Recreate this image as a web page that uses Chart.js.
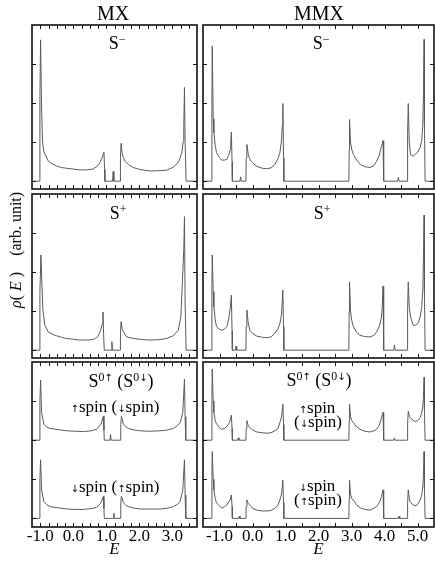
<!DOCTYPE html>
<html>
<head>
<meta charset="utf-8">
<script src="https://cdn.jsdelivr.net/npm/chart.js@4.4.1/dist/chart.umd.min.js"></script>
<style>
  body { margin: 0; background: #fff; }
  #fig { position: relative; width: 435px; height: 563px; overflow: hidden;
         font-family: 'Liberation Serif', 'Times New Roman', serif; color: #000; }
  #fig canvas { position: absolute; }
  .lbl { position: absolute; white-space: nowrap; line-height: 1; transform: translate(-50%, -50%); }
  .lbl sup { font-size: 0.66em; vertical-align: 0.5em; line-height: 0; }
  .arr { font-family: 'DejaVu Sans', sans-serif; font-size: 10px; }
  #ylab { position: absolute; left: 16px; top: 250px; white-space: nowrap; line-height: 1;
          font-size: 16px; transform: translate(-50%, -50%) rotate(-90deg); }
</style>
</head>
<body>
<div id="fig">
  <canvas id="mxTop"></canvas>
  <canvas id="mmxTop"></canvas>
  <canvas id="mxMid"></canvas>
  <canvas id="mmxMid"></canvas>
  <canvas id="mxBot"></canvas>
  <canvas id="mmxBot"></canvas>

  <div class="lbl" style="left:113px;top:13px;font-size:20px">MX</div>
  <div class="lbl" style="left:319px;top:13px;font-size:20px">MMX</div>

  <div class="lbl" style="left:117px;top:43px;font-size:18px">S<sup>−</sup></div>
  <div class="lbl" style="left:321px;top:43px;font-size:18px">S<sup>−</sup></div>
  <div class="lbl" style="left:118px;top:213px;font-size:18px">S<sup>+</sup></div>
  <div class="lbl" style="left:322px;top:213px;font-size:18px">S<sup>+</sup></div>

  <div class="lbl" style="left:121px;top:381px;font-size:18px">S<sup>0<span class="arr">↑</span></sup> (S<sup>0<span class="arr">↓</span></sup>)</div>
  <div class="lbl" style="left:319px;top:380px;font-size:18px">S<sup>0<span class="arr">↑</span></sup> (S<sup>0<span class="arr">↓</span></sup>)</div>

  <div class="lbl" style="left:115px;top:406px;font-size:17px"><span class="arr">↑</span>spin (<span class="arr">↓</span>spin)</div>
  <div class="lbl" style="left:115px;top:486px;font-size:17px"><span class="arr">↓</span>spin (<span class="arr">↑</span>spin)</div>

  <div class="lbl" style="left:317px;top:407px;font-size:17px"><span class="arr">↑</span>spin</div>
  <div class="lbl" style="left:318px;top:421px;font-size:17px">(<span class="arr">↓</span>spin)</div>
  <div class="lbl" style="left:317px;top:485px;font-size:17px"><span class="arr">↓</span>spin</div>
  <div class="lbl" style="left:318px;top:499px;font-size:17px">(<span class="arr">↑</span>spin)</div>

  <div id="ylab"><i>ρ</i>( <i>E</i> )&nbsp;&nbsp;&nbsp;&nbsp;(arb. unit)</div>
</div>

<script>
// density of states, [E, rho] pairs
const mxSMinus = [[-1.25,0],[-1.03,0],[-1.01,2.2],[-0.99,3.62],[-0.96,1.85],[-0.93,0.99],[-0.89,0.75],[-0.83,0.65],[-0.76,0.52],[-0.63,0.44],[-0.51,0.39],[-0.35,0.35],[-0.2,0.33],[0.0,0.31],[0.19,0.29],[0.4,0.29],[0.6,0.31],[0.72,0.38],[0.8,0.46],[0.86,0.58],[0.9,0.67],[0.93,0.74],[0.95,0.3],[0.96,0],
  [1.19,0],[1.21,0.25],[1.23,0],[1.42,0],[1.43,0.6],[1.45,0.97],[1.48,0.72],[1.52,0.6],[1.58,0.5],[1.67,0.43],[1.82,0.35],[2.02,0.3],[2.33,0.26],[2.63,0.27],[2.83,0.28],[3.03,0.36],[3.14,0.44],[3.22,0.55],[3.29,0.74],[3.33,1.0],[3.35,1.42],[3.37,2.4],[3.39,1.0],[3.42,0],[3.75,0]];

const mxSPlus = [[-1.25,0],[-1.03,0],[-1.01,1.5],[-0.98,2.44],[-0.95,1.71],[-0.92,1.03],[-0.86,0.64],[-0.76,0.47],[-0.63,0.41],[-0.51,0.37],[-0.35,0.33],[-0.21,0.3],[0.0,0.28],[0.19,0.26],[0.4,0.26],[0.6,0.27],[0.74,0.34],[0.83,0.51],[0.88,0.68],[0.9,0.98],[0.92,0.4],[0.94,0],
  [1.15,0],[1.17,0.22],[1.19,0],[1.42,0],[1.43,0.45],[1.45,0.73],[1.48,0.55],[1.52,0.47],[1.62,0.34],[1.82,0.3],[2.1,0.27],[2.33,0.26],[2.6,0.27],[2.83,0.3],[3.03,0.37],[3.18,0.51],[3.26,0.85],[3.31,1.79],[3.35,2.6],[3.37,3.42],[3.39,1.2],[3.42,0],[3.75,0]];

// S0 panel: upper curve sits on its own axis shifted by 2 units
const mxSpinUp = [[-1.25,0],[-1.03,0],[-1.01,1.0],[-0.99,1.54],[-0.96,0.71],[-0.89,0.41],[-0.8,0.33],[-0.7,0.3],[-0.45,0.27],[-0.2,0.24],[0.05,0.23],[0.31,0.22],[0.55,0.24],[0.71,0.28],[0.84,0.41],[0.91,0.61],[0.93,0.25],[0.94,0],
  [1.11,0],[1.13,0.15],[1.15,0],[1.43,0],[1.44,0.4],[1.46,0.61],[1.52,0.41],[1.6,0.34],[1.67,0.3],[1.85,0.26],[2.02,0.24],[2.3,0.23],[2.63,0.24],[2.85,0.26],[3.03,0.3],[3.15,0.37],[3.24,0.45],[3.32,0.71],[3.37,1.56],[3.39,0.6],[3.41,0],[3.75,0]];

const mxSpinDown = [[-1.25,0],[-1.03,0],[-1.01,1.0],[-0.99,1.5],[-0.96,0.73],[-0.89,0.43],[-0.8,0.35],[-0.7,0.3],[-0.45,0.27],[-0.2,0.24],[0.05,0.23],[0.31,0.23],[0.55,0.25],[0.71,0.28],[0.84,0.4],[0.91,0.56],[0.93,0.25],[0.94,0],
  [1.21,0],[1.23,0.13],[1.25,0],[1.43,0],[1.44,0.4],[1.46,0.57],[1.52,0.4],[1.6,0.33],[1.67,0.3],[1.85,0.26],[2.02,0.24],[2.3,0.24],[2.63,0.24],[2.85,0.26],[3.03,0.3],[3.15,0.36],[3.24,0.43],[3.32,0.73],[3.37,1.5],[3.39,0.6],[3.41,0],[3.75,0]];

const mmxSMinus = [[-1.5,0],[-1.24,0],[-1.23,2.0],[-1.22,3.46],[-1.19,1.6],[-1.17,1.24],[-1.13,0.92],[-1.09,0.73],[-1.0,0.6],[-0.93,0.54],[-0.85,0.54],[-0.78,0.56],[-0.72,0.66],[-0.68,0.8],[-0.66,1.0],[-0.64,1.26],[-0.62,0.5],[-0.61,0],
  [-0.38,0],[-0.36,0.11],[-0.34,0],[-0.2,0],[-0.19,0.6],[-0.17,0.94],[-0.13,0.7],[-0.08,0.56],[0.0,0.47],[0.13,0.38],[0.3,0.33],[0.43,0.32],[0.56,0.34],[0.68,0.43],[0.77,0.58],[0.83,0.73],[0.88,1.05],[0.9,1.4],[0.92,1.99],[0.94,0.6],[0.95,0],
  [2.92,0],[2.93,0.8],[2.94,1.58],[2.97,1.0],[3.01,0.8],[3.06,0.68],[3.15,0.55],[3.26,0.43],[3.4,0.37],[3.56,0.35],[3.68,0.4],[3.76,0.51],[3.84,0.66],[3.9,0.87],[3.93,0.95],[3.955,1.04],[3.97,0.4],[3.98,0],
  [4.4,0],[4.42,0.1],[4.44,0],[4.69,0],[4.7,1.2],[4.72,1.99],[4.75,1.0],[4.79,0.68],[4.87,0.64],[4.92,0.68],[5.0,0.74],[5.08,0.86],[5.13,1.05],[5.16,1.41],[5.18,2.2],[5.2,3.63],[5.21,1.5],[5.23,0],[5.5,0]];

const mmxSPlus = [[-1.5,0],[-1.24,0],[-1.23,1.6],[-1.22,2.44],[-1.19,1.5],[-1.17,1.11],[-1.13,0.78],[-1.09,0.6],[-1.0,0.53],[-0.93,0.51],[-0.85,0.54],[-0.78,0.6],[-0.72,0.8],[-0.7,0.94],[-0.67,1.1],[-0.64,1.41],[-0.62,0.5],[-0.61,0],
  [-0.52,0],[-0.5,0.1],[-0.48,0],[-0.2,0],[-0.19,0.6],[-0.17,1.03],[-0.13,0.7],[-0.08,0.51],[0.0,0.43],[0.13,0.36],[0.3,0.33],[0.43,0.32],[0.56,0.34],[0.68,0.43],[0.77,0.55],[0.83,0.68],[0.88,0.92],[0.92,1.54],[0.94,0.6],[0.95,0],
  [2.92,0],[2.93,1.0],[2.94,1.75],[2.97,1.0],[3.01,0.75],[3.06,0.6],[3.15,0.47],[3.26,0.38],[3.4,0.35],[3.56,0.34],[3.68,0.38],[3.76,0.47],[3.84,0.6],[3.91,0.85],[3.93,1.1],[3.955,1.64],[3.97,0.6],[3.98,0],
  [4.28,0],[4.3,0.13],[4.32,0],[4.69,0],[4.7,1.0],[4.72,1.75],[4.75,1.1],[4.79,0.85],[4.87,0.64],[4.95,0.64],[5.02,0.7],[5.08,0.85],[5.13,1.1],[5.16,1.54],[5.18,2.3],[5.2,3.46],[5.21,1.5],[5.23,0],[5.5,0]];

const mmxSpinUp = [[-1.5,0],[-1.24,0],[-1.23,1.1],[-1.22,1.82],[-1.19,1.0],[-1.17,0.71],[-1.13,0.5],[-1.09,0.42],[-1.0,0.32],[-0.93,0.28],[-0.85,0.3],[-0.78,0.35],[-0.72,0.42],[-0.68,0.5],[-0.64,0.64],[-0.62,0.3],[-0.61,0],
  [-0.45,0],[-0.43,0.06],[-0.41,0],[-0.2,0],[-0.19,0.3],[-0.17,0.5],[-0.13,0.38],[-0.08,0.32],[0.0,0.26],[0.13,0.21],[0.3,0.19],[0.43,0.18],[0.56,0.19],[0.68,0.24],[0.77,0.3],[0.83,0.45],[0.88,0.6],[0.92,0.92],[0.94,0.4],[0.95,0],
  [2.92,0],[2.93,0.5],[2.94,0.92],[2.97,0.6],[3.01,0.5],[3.06,0.45],[3.15,0.34],[3.26,0.28],[3.4,0.23],[3.56,0.21],[3.68,0.24],[3.76,0.28],[3.84,0.38],[3.91,0.58],[3.955,0.71],[3.97,0.3],[3.98,0],
  [4.28,0],[4.3,0.06],[4.32,0],[4.69,0],[4.7,0.4],[4.72,0.74],[4.76,0.6],[4.82,0.54],[4.92,0.48],[5.0,0.5],[5.08,0.58],[5.13,0.7],[5.16,0.88],[5.18,1.1],[5.2,1.61],[5.21,0.8],[5.23,0],[5.5,0]];

const mmxSpinDown = [[-1.5,0],[-1.24,0],[-1.23,1.0],[-1.22,1.71],[-1.19,1.0],[-1.17,0.73],[-1.13,0.5],[-1.09,0.4],[-1.0,0.32],[-0.93,0.26],[-0.85,0.3],[-0.78,0.34],[-0.72,0.42],[-0.68,0.47],[-0.64,0.6],[-0.62,0.3],[-0.61,0],
  [-0.42,0],[-0.4,0.06],[-0.38,0],[-0.2,0],[-0.19,0.3],[-0.17,0.47],[-0.13,0.38],[-0.08,0.34],[0.0,0.26],[0.13,0.21],[0.3,0.19],[0.43,0.19],[0.56,0.2],[0.68,0.26],[0.77,0.34],[0.83,0.47],[0.88,0.62],[0.92,0.98],[0.94,0.4],[0.95,0],
  [2.92,0],[2.93,0.5],[2.94,0.98],[2.97,0.62],[3.01,0.5],[3.06,0.47],[3.15,0.35],[3.26,0.27],[3.4,0.23],[3.56,0.21],[3.68,0.26],[3.76,0.3],[3.84,0.4],[3.91,0.56],[3.955,0.73],[3.97,0.3],[3.98,0],
  [4.42,0],[4.44,0.06],[4.46,0],[4.69,0],[4.7,0.4],[4.72,0.73],[4.76,0.45],[4.82,0.38],[4.92,0.32],[5.0,0.35],[5.08,0.47],[5.13,0.6],[5.16,0.81],[5.18,1.1],[5.2,1.71],[5.21,0.8],[5.23,0],[5.5,0]];

const mxRange = [-1.25, 3.75];
const mmxRange = [-1.5, 5.5];
const mxTickLabels = [-1, 0, 1, 2, 3];
const mmxTickLabels = [-1, 0, 1, 2, 3, 4, 5];
const mxMinorStep = 0.25;
const mmxMinorStep = 0.5;
const yTickVals = [0, 1, 2, 3];

const LINE = '#5a5a5a';
const FONT = "'Liberation Serif', 'Times New Roman', serif";

// frame box + inward ticks on all four sides
const frameTicks = {
  id: 'frameTicks',
  afterDatasetsDraw(chart, args, opts) {
    const { ctx, chartArea: a, scales } = chart;
    const x = scales.x, y = scales.y;
    ctx.save();
    ctx.strokeStyle = '#111';
    ctx.lineWidth = 1;
    ctx.beginPath();
    for (let v = x.min + opts.step; v < x.max - 1e-6; v += opts.step) {
      const px = Math.round(x.getPixelForValue(v)) + 0.5;
      ctx.moveTo(px, a.top); ctx.lineTo(px, a.top + 4);
      ctx.moveTo(px, a.bottom); ctx.lineTo(px, a.bottom - 4);
    }
    yTickVals.forEach(v => {
      const py = Math.round(y.getPixelForValue(v)) + 0.5;
      ctx.moveTo(a.left, py); ctx.lineTo(a.left + 4, py);
      ctx.moveTo(a.right, py); ctx.lineTo(a.right - 4, py);
    });
    ctx.stroke();
    ctx.lineWidth = 1.6;
    ctx.strokeRect(a.left, a.top, a.right - a.left, a.bottom - a.top);
    ctx.restore();
  }
};

const cols = [
  { left: 32, width: 165, range: mxRange, labels: mxTickLabels, step: mxMinorStep },
  { left: 203, width: 231, range: mmxRange, labels: mmxTickLabels, step: mmxMinorStep }
];
const rows = [
  { top: 25, height: 164, ymin: -0.2 },
  { top: 194, height: 164, ymin: -0.2 },
  { top: 362, height: 165, ymin: -0.22 }
];
const AXIS_H = 36;
const PAD = 2;
const PAD_LEFT = 14;   // room for the "-1.0" label that sticks out past the frame

function lineSet(pairs, axis) {
  return {
    data: pairs.map(p => ({ x: p[0], y: p[1] })),
    yAxisID: axis,
    borderColor: LINE,
    borderWidth: 1,
    pointRadius: 0,
    tension: 0,
    fill: false
  };
}

function makePanel(id, col, row, datasets, withAxis) {
  const cv = document.getElementById(id);
  const w = col.width + PAD_LEFT + PAD;
  const h = row.height + 2 * PAD + (withAxis ? AXIS_H - PAD : 0);
  cv.width = w; cv.height = h;
  cv.style.left = (col.left - PAD_LEFT) + 'px';
  cv.style.top = (row.top - PAD) + 'px';
  cv.style.width = w + 'px';
  cv.style.height = h + 'px';

  return new Chart(cv, {
    type: 'line',
    data: { datasets },
    options: {
      responsive: false,
      animation: false,
      events: [],
      layout: { padding: { left: PAD_LEFT, right: PAD, top: PAD, bottom: withAxis ? 0 : PAD } },
      plugins: { legend: { display: false }, tooltip: { enabled: false }, frameTicks: { step: col.step } },
      scales: {
        x: {
          type: 'linear',
          min: col.range[0],
          max: col.range[1],
          display: withAxis,
          grid: { display: false, drawTicks: false, tickLength: 0 },
          border: { display: false },
          afterBuildTicks: s => { s.ticks = col.labels.map(v => ({ value: v })); },
          afterFit: s => {
            if (!withAxis) return;
            s.height = AXIS_H; s.paddingLeft = 0; s.paddingRight = 0;
          },
          ticks: {
            autoSkip: false,
            maxRotation: 0,
            padding: -1,
            color: '#000',
            font: { family: FONT, size: 17 },
            callback: v => v.toFixed(1)
          },
          title: {
            display: true,
            text: 'E',
            color: '#000',
            padding: { top: 0, bottom: 3 },
            font: { family: FONT, size: 17, style: 'italic' }
          }
        },
        y: { type: 'linear', min: row.ymin, max: 4, display: false },
        yUp: { type: 'linear', min: row.ymin - 2, max: 2, display: false }
      }
    },
    plugins: [frameTicks]
  });
}

makePanel('mxTop', cols[0], rows[0], [lineSet(mxSMinus, 'y')], false);
makePanel('mmxTop', cols[1], rows[0], [lineSet(mmxSMinus, 'y')], false);
makePanel('mxMid', cols[0], rows[1], [lineSet(mxSPlus, 'y')], false);
makePanel('mmxMid', cols[1], rows[1], [lineSet(mmxSPlus, 'y')], false);
makePanel('mxBot', cols[0], rows[2], [lineSet(mxSpinUp, 'yUp'), lineSet(mxSpinDown, 'y')], true);
makePanel('mmxBot', cols[1], rows[2], [lineSet(mmxSpinUp, 'yUp'), lineSet(mmxSpinDown, 'y')], true);
</script>
</body>
</html>
